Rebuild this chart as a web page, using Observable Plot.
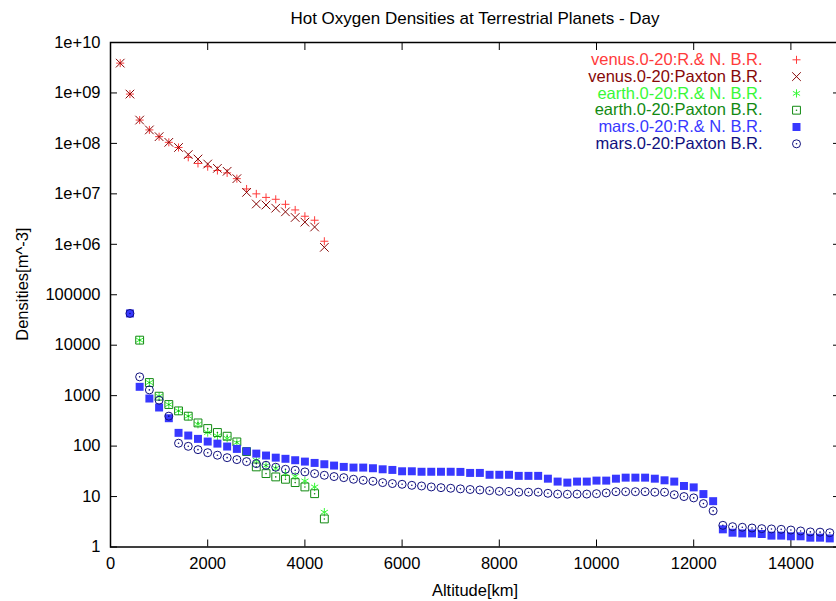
<!DOCTYPE html>
<html><head><meta charset="utf-8">
<script src="https://cdn.jsdelivr.net/npm/d3@7"></script>
<script src="https://cdn.jsdelivr.net/npm/@observablehq/plot@0.6"></script>
<style>body{margin:0;background:#fff}</style>
</head><body><div id="chart"></div>
<script>
const title = "Hot Oxygen Densities at Terrestrial Planets - Day";
const xLabel = "Altitude[km]";
const yLabel = "Densities[m^-3]";
const xTicks = [0, 2000, 4000, 6000, 8000, 10000, 12000, 14000];
const yTicks = [1, 10, 100, 1000, 10000, 100000, 1e6, 1e7, 1e8, 1e9, 1e10];
const yTickLabels = ["1", "10", "100", "1000", "10000", "100000", "1e+06", "1e+07", "1e+08", "1e+09", "1e+10"];

const seriesNames = [
  "venus.0-20:R.& N. B.R.",
  "venus.0-20:Paxton B.R.",
  "earth.0-20:R.& N. B.R.",
  "earth.0-20:Paxton B.R.",
  "mars.0-20:R.& N. B.R.",
  "mars.0-20:Paxton B.R."
];
const seriesColors = ["#ff3b3b", "#860808", "#38f838", "#128a12", "#3838ff", "#10107e"];

const venusAlt = [200,400,600,800,1000,1200,1400,1600,1800,2000,2200,2400,2600,2800,3000,3200,3400,3600,3800,4000,4200,4400];
const venusRN = [3.9e9,9.5e8,2.9e8,1.85e8,1.36e8,1.05e8,8.3e7,5.3e7,4.0e7,3.45e7,2.9e7,2.6e7,2.0e7,1.25e7,1.0e7,8.5e6,7.8e6,6.2e6,4.8e6,3.6e6,3.0e6,1.15e6];
const venusPaxton = [3.9e9,9.5e8,2.9e8,1.85e8,1.36e8,1.05e8,8.3e7,6.0e7,4.9e7,3.9e7,3.2e7,2.8e7,2.0e7,1.07e7,6.3e6,6.0e6,5.2e6,4.4e6,3.4e6,2.75e6,2.2e6,8.7e5];

const earthAlt = [600,800,1000,1200,1400,1600,1800,2000,2200,2400,2600,2800,3000,3200,3400,3600,3800,4000,4200,4400];
const earthRN = [12600,1820,976,667,499,392,271,186,159,143,117,78,52.5,41.1,36.4,28.5,25.2,20.4,15.5,4.9];
const earthPaxton = [12600,1820,976,667,499,392,288,223,186,157,121,78,38.7,28.5,24.5,22,18.9,15.5,11.4,3.6];

const marsAlt = [400,600,800,1000,1200,1400,1600,1800,2000,2200,2400,2600,2800,3000,3200,3400,3600,3800,4000,4200,4400,4600,4800,5000,5200,5400,5600,5800,6000,6200,6400,6600,6800,7000,7200,7400,7600,7800,8000,8200,8400,8600,8800,9000,9200,9400,9600,9800,10000,10200,10400,10600,10800,11000,11200,11400,11600,11800,12000,12200,12400,12600,12800,13000,13200,13400,13600,13800,14000,14200,14400,14600,14800];
const marsRN = [42600,1496,877,582,357,183,162,139,123,112,98,88,79,71,65,59,56,52.5,49.3,46.4,43.7,41.1,38.7,37.5,37.5,36.4,34.7,33.7,31.7,31.7,31,31,31,31,30.8,29.4,29.4,27,27,27,25.7,25.7,25.7,22.6,19.8,18.9,19.8,19.8,20.7,20.7,22.6,23.7,23.7,23.7,22.6,21,19.8,16.2,15.2,11.2,8.1,2.24,1.92,1.86,1.86,1.81,1.68,1.68,1.63,1.63,1.53,1.53,1.48];
const marsPaxton = [42600,2360,1300,813,392,114,99,85,74,66,59,54,49.3,45,41.7,38.1,34.7,33.2,30.8,28.5,26.4,24.9,23.7,22,21,20.1,18.9,18.1,17.5,16.7,16.2,15.5,15.0,14.6,14.2,13.8,13.5,13.1,12.7,12.6,12.2,12.2,12.2,11.6,11.2,11.1,11.2,11.2,11.4,11.8,12.5,12.5,12.5,12.5,12.2,12.2,10.9,10.0,9.4,7.25,5.2,2.69,2.53,2.46,2.38,2.31,2.28,2.24,2.17,2.08,1.99,1.97,1.92];

const FONT = "'Liberation Sans', Arial, Helvetica, sans-serif";
const yLabelMap = new Map(yTicks.map((v, i) => [v, yTickLabels[i]]));

const symbolStyles = [
  {symbol: "plus", r: 2.7, fill: "none", stroke: seriesColors[0], strokeWidth: 1},
  {symbol: "times", r: 4.0, fill: "none", stroke: seriesColors[1], strokeWidth: 1},
  {symbol: "asterisk", r: 3.9, fill: "none", stroke: seriesColors[2], strokeWidth: 1},
  {symbol: "square2", r: 5.0, fill: "none", stroke: seriesColors[3], strokeWidth: 1},
  {symbol: "square", r: 4.5, fill: seriesColors[4], stroke: "none"},
  {symbol: "circle", r: 4.0, fill: "none", stroke: seriesColors[5], strokeWidth: 1}
];
const seriesData = [
  [venusAlt, venusRN], [venusAlt, venusPaxton],
  [earthAlt, earthRN], [earthAlt, earthPaxton],
  [marsAlt, marsRN], [marsAlt, marsPaxton]
];
const centerDot = [false, false, false, true, false, true];

const marks = [];
seriesData.forEach(([alt, vals], k) => {
  marks.push(Plot.dot(vals, {x: (d, i) => alt[i], y: d => d, ...symbolStyles[k]}));
  if (centerDot[k]) marks.push(Plot.dot(vals, {x: (d, i) => alt[i], y: d => d, r: 0.8, fill: seriesColors[k], stroke: "none"}));
});

const rowH = 16.8, row0 = 17.3;
seriesNames.forEach((name, k) => {
  marks.push(Plot.text([name], {frameAnchor: "top-right", dx: -77, dy: row0 + rowH * k, textAnchor: "end", lineAnchor: "middle", fill: seriesColors[k], fontSize: 16.5}));
  marks.push(Plot.dot([name], {frameAnchor: "top-right", dx: -43, dy: row0 + rowH * k, ...symbolStyles[k]}));
  if (centerDot[k]) marks.push(Plot.dot([name], {frameAnchor: "top-right", dx: -43, dy: row0 + rowH * k, r: 0.8, fill: seriesColors[k], stroke: "none"}));
});

const chart = Plot.plot({
  width: 836,
  height: 601,
  marginLeft: 110,
  marginRight: -3,
  marginTop: 42,
  marginBottom: 54.5,
  style: {fontFamily: FONT, fontSize: "16.5px", background: "#fff", color: "#000"},
  x: {domain: [0, 15000]},
  y: {type: "log", domain: [1, 1e10]},
  marks: [
    Plot.axisY(yTicks, {anchor: "left", tickSize: 7, dx: 7, fill: "none", stroke: "#000", label: null}),
    Plot.axisY(yTicks, {anchor: "right", tickSize: 7, dx: -7, fill: "none", stroke: "#000", label: null}),
    Plot.axisX(xTicks, {anchor: "bottom", tickSize: 7, dy: -7, fill: "none", stroke: "#000", label: null}),
    Plot.axisX(xTicks, {anchor: "top", tickSize: 7, dy: 7, fill: "none", stroke: "#000", label: null}),
    Plot.axisY(yTicks, {anchor: "left", tickSize: 0, tickPadding: 10, tickFormat: d => yLabelMap.get(d), fill: "#000", fontSize: 16.5, label: null}),
    Plot.axisX(xTicks, {anchor: "bottom", tickSize: 0, tickPadding: 10, tickFormat: d => String(d), fill: "#000", fontSize: 16.5, label: null}),
    Plot.frame({stroke: "#000", strokeWidth: 1.5}),
    ...marks,
    Plot.text([title], {frameAnchor: "top", dy: -24, lineAnchor: "middle", fontSize: 17, fill: "#000"}),
    Plot.text([xLabel], {frameAnchor: "bottom", dy: 43.5, lineAnchor: "middle", fontSize: 16.5, fill: "#000"}),
    Plot.text([yLabel], {frameAnchor: "left", dx: -88, dy: 46, rotate: -90, lineAnchor: "middle", fontSize: 16.5, fill: "#000"})
  ]
});
document.getElementById("chart").appendChild(chart);
</script>
</body></html>
